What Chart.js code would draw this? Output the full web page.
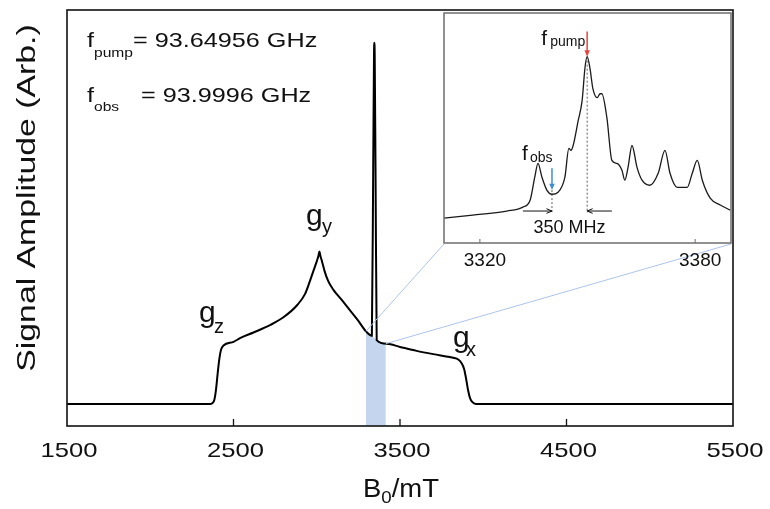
<!DOCTYPE html>
<html>
<head>
<meta charset="utf-8">
<script src="https://cdn.jsdelivr.net/npm/chart.js@4.4.0/dist/chart.umd.min.js"></script>
<style>
  body { margin: 0; background: #fff; }
  #wrap { position: relative; width: 770px; height: 509px; }
  #wrap canvas { position: absolute; left: 0; top: 0; }
</style>
</head>
<body>
<div id="wrap">
  <canvas id="mainChart" width="770" height="509"></canvas>
  <canvas id="insetChart" width="770" height="509"></canvas>
</div>
<script>
// full spectrum: field in mT, amplitude arbitrary (baseline 0, pump spike 1)
const fieldB = [1500, 2000, 2362, 2375, 2385, 2395, 2405, 2415, 2425, 2440,
  2500, 2542, 2620, 2722, 2800, 2883, 2930, 2961, 2985, 3000,
  3010, 3016, 3022, 3032, 3047, 3069, 3100, 3150, 3200, 3250,
  3296, 3331, 3339, 3344, 3346, 3348, 3353, 3360, 3420, 3500,
  3600, 3700, 3800, 3820, 3850, 3870, 3885, 3897, 3908, 3920,
  3935, 3955, 4500, 5500];
const signal = [0, 0, 0, 0.003, 0.012, 0.04, 0.085, 0.125, 0.150, 0.162,
  0.172, 0.183, 0.198, 0.219, 0.240, 0.274, 0.305, 0.343, 0.375, 0.395,
  0.410, 0.422, 0.410, 0.394, 0.368, 0.340, 0.316, 0.288, 0.259, 0.230,
  0.201, 0.189, 0.65, 0.97, 1.0, 0.97, 0.65, 0.177, 0.167, 0.158,
  0.147, 0.138, 0.130, 0.128, 0.123, 0.113, 0.097, 0.07, 0.04, 0.017,
  0.005, 0, 0, 0];

// region that the inset zooms into (shaded)
const shadeB = [3295, 3331, 3360, 3415];
const shadeSignal = [0.201, 0.189, 0.177, 0.167];

const mainTicks = [1500, 2500, 3500, 4500, 5500];

// inset: zoom around the pump / observe positions
const insetB = [3310.0, 3318.0, 3327.5, 3332.0, 3334.0, 3335.3, 3336.2, 3337.3, 3338.7, 3340.1,
  3341.8, 3343.7, 3344.8, 3345.4, 3346.0, 3347.4, 3348.5, 3349.3, 3349.9, 3350.7,
  3351.5, 3352.7, 3353.5, 3354.0, 3355.4, 3356.8, 3358.2, 3359.6, 3360.4, 3361.3,
  3362.4, 3363.8, 3365.2, 3367.4, 3369.7, 3371.6, 3373.0, 3375.0, 3377.8, 3379.2,
  3380.6, 3382.0, 3384.2, 3387.0, 3389.8];
const insetSignal = [0.108, 0.121, 0.139, 0.156, 0.186, 0.286, 0.346, 0.286, 0.229, 0.212,
  0.221, 0.286, 0.411, 0.403, 0.424, 0.532, 0.619, 0.762, 0.810, 0.758,
  0.671, 0.632, 0.649, 0.649, 0.545, 0.359, 0.346, 0.316, 0.273, 0.329,
  0.424, 0.329, 0.273, 0.251, 0.303, 0.403, 0.303, 0.242, 0.242, 0.303,
  0.359, 0.273, 0.195, 0.165, 0.143];
const insetTicks = [3320, 3380];
const pumpB = 3349.9, pumpPeak = 0.81;
const obsB = 3340.1, obsDip = 0.23;
const offsetLevel = 0.139;

const FONT = "'Liberation Sans', Arial, Helvetica, sans-serif";
const INSET = { left: 444, top: 13, right: 731, bottom: 243 };

function toXY(xs, ys) { return xs.map((x, i) => ({ x: x, y: ys[i] })); }

function txt(ctx, s, x, y, size, sx, align) {
  ctx.save();
  ctx.font = size + 'px ' + FONT;
  ctx.textAlign = align || 'left';
  ctx.textBaseline = 'alphabetic';
  ctx.fillStyle = '#111';
  ctx.translate(x, y);
  ctx.scale(sx || 1, 1);
  ctx.fillText(s, 0, 0);
  ctx.restore();
}
function tw(ctx, s, size, sx) {
  ctx.save();
  ctx.font = size + 'px ' + FONT;
  const w = ctx.measureText(s).width * (sx || 1);
  ctx.restore();
  return w;
}

function arrow(ctx, x1, y1, x2, y2, color, head, lw, open) {
  const a = Math.atan2(y2 - y1, x2 - x1);
  ctx.save();
  ctx.strokeStyle = color; ctx.fillStyle = color; ctx.lineWidth = lw;
  ctx.beginPath();
  ctx.moveTo(x1, y1);
  ctx.lineTo(open ? x2 : x2 - head * 0.7 * Math.cos(a), open ? y2 : y2 - head * 0.7 * Math.sin(a));
  ctx.stroke();
  ctx.beginPath();
  ctx.moveTo(x2 - head * Math.cos(a - 0.4), y2 - head * Math.sin(a - 0.4));
  ctx.lineTo(x2, y2);
  ctx.lineTo(x2 - head * Math.cos(a + 0.4), y2 - head * Math.sin(a + 0.4));
  if (open) { ctx.stroke(); } else { ctx.closePath(); ctx.fill(); }
  ctx.restore();
}

const mainDecor = {
  id: 'mainDecor',
  afterDatasetsDraw(chart) {
    const ctx = chart.ctx, xs = chart.scales.x, ys = chart.scales.y;
    // guide lines from shaded region to inset corners
    ctx.save();
    ctx.strokeStyle = '#aec4ea';
    ctx.lineWidth = 1;
    const n = shadeB.length - 1;
    ctx.beginPath();
    ctx.moveTo(xs.getPixelForValue(shadeB[0]), ys.getPixelForValue(shadeSignal[0]));
    ctx.lineTo(INSET.left, INSET.bottom + 1);
    ctx.moveTo(xs.getPixelForValue(shadeB[n]), ys.getPixelForValue(shadeSignal[n]));
    ctx.lineTo(INSET.right, INSET.bottom + 1);
    ctx.stroke();
    ctx.restore();
  },
  afterDraw(chart) {
    const ctx = chart.ctx, xs = chart.scales.x, a = chart.chartArea;
    ctx.save();
    ctx.strokeStyle = '#111';
    ctx.lineWidth = 1.6;
    ctx.strokeRect(a.left, a.top, a.right - a.left, a.bottom - a.top);
    ctx.lineWidth = 1.3;
    ctx.beginPath();
    mainTicks.forEach(v => {
      if (v === xs.min || v === xs.max) return;
      const x = xs.getPixelForValue(v);
      ctx.moveTo(x, a.bottom); ctx.lineTo(x, a.bottom - 7);
    });
    ctx.stroke();
    ctx.restore();

    mainTicks.forEach(v => txt(ctx, String(v), xs.getPixelForValue(v) + 2, 457, 21, 1.22, 'center'));

    // x title B0/mT
    const s1 = 1.1;
    const wB = tw(ctx, 'B', 25, s1), w0 = tw(ctx, '0', 17, s1), wR = tw(ctx, '/mT', 25, s1);
    let x0 = 401 - (wB + w0 + wR) / 2;
    txt(ctx, 'B', x0, 497, 25, s1); x0 += wB;
    txt(ctx, '0', x0, 503, 17, s1); x0 += w0;
    txt(ctx, '/mT', x0, 497, 25, s1);

    // y title
    ctx.save();
    ctx.translate(35, 198);
    ctx.rotate(-Math.PI / 2);
    ctx.scale(1.3, 1);
    ctx.font = '26px ' + FONT;
    ctx.textAlign = 'center';
    ctx.fillStyle = '#111';
    ctx.fillText('Signal Amplitude (Arb.)', 0, 0);
    ctx.restore();

    // frequencies
    txt(ctx, 'f', 87, 47, 21, 1.2);
    txt(ctx, 'pump', 94, 57, 13, 1.2);
    txt(ctx, '= 93.64956 GHz', 133, 47, 21, 1.2);
    txt(ctx, 'f', 87, 102, 21, 1.2);
    txt(ctx, 'obs', 94, 111, 13, 1.2);
    txt(ctx, '= 93.9996 GHz', 141, 102, 21, 1.2);

    // g tensor labels
    txt(ctx, 'g', 199, 322, 30, 1); txt(ctx, 'z', 214, 333, 20, 1);
    txt(ctx, 'g', 306, 225, 30, 1); txt(ctx, 'y', 322, 233, 20, 1);
    txt(ctx, 'g', 453, 347, 30, 1); txt(ctx, 'x', 466, 356, 20, 1);
  }
};

new Chart(document.getElementById('mainChart'), {
  type: 'line',
  data: {
    datasets: [{
      data: toXY(fieldB, signal),
      borderColor: '#000',
      borderWidth: 2,
      pointRadius: 0,
      fill: false,
      cubicInterpolationMode: 'monotone',
      order: 0
    }, {
      data: toXY(shadeB, shadeSignal),
      borderWidth: 0,
      borderColor: 'rgba(0,0,0,0)',
      backgroundColor: 'rgb(197,213,238)',
      pointRadius: 0,
      fill: 'start',
      order: 1
    }]
  },
  options: {
    responsive: false,
    animation: false,
    layout: { padding: { left: 67, right: 37, top: 10, bottom: 83 } },
    scales: {
      x: { type: 'linear', min: 1500, max: 5500, display: false },
      y: { min: -0.061, max: 1.091, display: false }
    },
    plugins: { legend: { display: false }, tooltip: { enabled: false } }
  },
  plugins: [mainDecor]
});

const insetDecor = {
  id: 'insetDecor',
  beforeDatasetsDraw(chart) {
    const ctx = chart.ctx, a = chart.chartArea;
    ctx.save();
    ctx.fillStyle = '#fff';
    ctx.fillRect(a.left, a.top, a.right - a.left, a.bottom - a.top);
    ctx.restore();
  },
  afterDraw(chart) {
    const ctx = chart.ctx, xs = chart.scales.x, ys = chart.scales.y, a = chart.chartArea;
    ctx.save();
    ctx.strokeStyle = '#6e6e6e';
    ctx.lineWidth = 1.5;
    ctx.strokeRect(a.left, a.top, a.right - a.left, a.bottom - a.top);
    ctx.lineWidth = 1;
    ctx.beginPath();
    insetTicks.forEach(v => {
      const x = xs.getPixelForValue(v);
      ctx.moveTo(x, a.bottom); ctx.lineTo(x, a.bottom - 4);
    });
    ctx.stroke();
    ctx.restore();
    insetTicks.forEach(v => txt(ctx, String(v), xs.getPixelForValue(v) + 5, 266, 19, 1, 'center'));

    const xp = xs.getPixelForValue(pumpB), xo = xs.getPixelForValue(obsB);
    const yLevel = ys.getPixelForValue(offsetLevel);
    // dashed drop lines
    ctx.save();
    ctx.strokeStyle = '#333';
    ctx.lineWidth = 0.8;
    ctx.setLineDash([2, 2]);
    ctx.beginPath();
    ctx.moveTo(xp, ys.getPixelForValue(pumpPeak)); ctx.lineTo(xp, yLevel + 2);
    ctx.moveTo(xo, ys.getPixelForValue(obsDip)); ctx.lineTo(xo, yLevel + 2);
    ctx.stroke();
    ctx.restore();

    // pump and observe arrows
    arrow(ctx, xp, ys.getPixelForValue(0.92), xp, ys.getPixelForValue(pumpPeak), '#e8453c', 7, 1.5, false);
    arrow(ctx, xo, ys.getPixelForValue(0.325), xo, ys.getPixelForValue(obsDip), '#3d8fd4', 7, 1.5, false);
    // 350 MHz offset arrows
    arrow(ctx, xs.getPixelForValue(3332.0), yLevel, xo, yLevel, '#111', 6, 1, true);
    arrow(ctx, xs.getPixelForValue(3356.8), yLevel, xp, yLevel, '#111', 6, 1, true);
    txt(ctx, '350 MHz', (xo + xp) / 2, ys.getPixelForValue(0.043), 18, 1, 'center');

    txt(ctx, 'f', xp - 46, 45, 21, 1);
    txt(ctx, 'pump', xp - 37, 46, 14, 1);
    txt(ctx, 'f', xo - 30, 160, 21, 1);
    txt(ctx, 'obs', xo - 22, 162, 14, 1);
  }
};

new Chart(document.getElementById('insetChart'), {
  type: 'line',
  data: {
    datasets: [{
      data: toXY(insetB, insetSignal),
      borderColor: '#1a1a1a',
      borderWidth: 1.3,
      pointRadius: 0,
      fill: false,
      cubicInterpolationMode: 'monotone'
    }]
  },
  options: {
    responsive: false,
    animation: false,
    layout: { padding: { left: INSET.left, right: 770 - INSET.right, top: INSET.top, bottom: 509 - INSET.bottom } },
    scales: {
      x: { type: 'linear', min: 3310, max: 3390, display: false },
      y: { min: 0, max: 1, display: false }
    },
    plugins: { legend: { display: false }, tooltip: { enabled: false } }
  },
  plugins: [insetDecor]
});
</script>
</body>
</html>
